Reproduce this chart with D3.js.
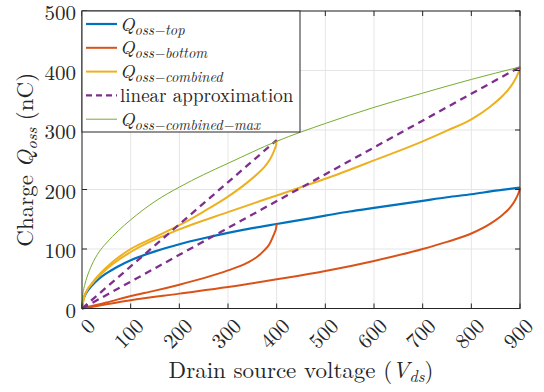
<!DOCTYPE html>
<html><head><meta charset="utf-8">
<script src="https://cdn.jsdelivr.net/npm/d3@7"></script>
<style>
html,body{margin:0;padding:0;background:#fff;}
</style></head>
<body><svg id="c" width="544" height="392"></svg>
<script>
const xTicks = [0,100,200,300,400,500,600,700,800,900];
const yTicks = [0,100,200,300,400,500];

const vTop = [0,2,5,10,20,35,50,75,100,150,200,250,300,350,400,450,500,550,600,650,700,750,800,850,900];
const qTop = [0,13,20,28,38,50,59,71,81,96,108,118,127,135,142,149,156,163,169,175,181,187,192,198,203];

const vBot400 = [0,50,100,150,200,250,300,340,360,375,385,392,396,399,400];
const qBot400 = [0,10,21,30,40,51,64,77,87,98,108,120,128,136,142];

const vBot900 = [0,50,100,200,300,400,500,600,700,750,800,840,865,880,890,896,899,900];
const qBot900 = [0,7,14,25,36,49,63,80,100,112,126,143,158,170,182,192,199,203];

const vComb400 = [0,5,10,20,50,100,150,200,250,300,340,360,375,385,392,396,399,400];
const qComb400 = [0,21,30,42,69,100,120,140,163,188,212,226,238,249,260,268,276,283];

const vComb900 = [0,5,10,20,50,100,200,300,400,500,600,700,750,800,840,865,880,890,896,899,900];
const qComb900 = [0,21,30,41,66,95,133,162,190,218,249,281,299,318,340,358,372,385,395,402,406];

const vLin400 = [0,400], qLin400 = [0,283];
const vLin900 = [0,900], qLin900 = [0,406];

const vMax = [0,1,3,6,10,20,35,50,75,100,150,200,250,300,400,500,600,700,800,900];
const qMax = [0,18,30,41,52,73,95,110,131,149,180,204,225,244,281,311,338,362,385,406];

const C = {top:"#0072BD", bot:"#D95319", comb:"#EDB120", lin:"#7E2F8E", max:"#77AC30"};
const FONT = "Latin Modern Roman";
const TXT = "#262626";

const L=82, R=520, T=11, B=308.5;
const svg = d3.select("#c");
const x = d3.scaleLinear().domain([0,900]).range([L,R]);
const y = d3.scaleLinear().domain([0,500]).range([B,T]);

function txt(sel){ return sel.append("text").attr("font-family",FONT).attr("fill",TXT); }

// grid
const g = svg.append("g");
g.selectAll(".gx").data(xTicks).join("line").attr("x1",d=>x(d)).attr("x2",d=>x(d)).attr("y1",T).attr("y2",B).attr("stroke","#e5e5e5").attr("stroke-width",1);
g.selectAll(".gy").data(yTicks).join("line").attr("y1",d=>y(d)).attr("y2",d=>y(d)).attr("x1",L).attr("x2",R).attr("stroke","#e5e5e5").attr("stroke-width",1);

const line = d3.line().x(d=>x(d[0])).y(d=>y(d[1])).curve(d3.curveMonotoneX);
const zip=(a,b)=>a.map((v,i)=>[v,b[i]]);
svg.append("clipPath").attr("id","pc").append("rect").attr("x",L-2).attr("y",T-2).attr("width",R-L+4).attr("height",B-T+4);
const pl = svg.append("g").attr("clip-path","url(#pc)");
function draw(v,q,col,w,dash){
  const p = pl.append("path").attr("d",line(zip(v,q))).attr("fill","none").attr("stroke",col).attr("stroke-width",w).attr("stroke-linejoin","round");
  if(dash) p.attr("stroke-dasharray",dash);
}
draw(vTop,qTop,C.top,2.2);
draw(vBot400,qBot400,C.bot,2);
draw(vBot900,qBot900,C.bot,2);
draw(vComb400,qComb400,C.comb,2);
draw(vComb900,qComb900,C.comb,2);
draw(vLin400,qLin400,C.lin,2.3,"7,5");
draw(vLin900,qLin900,C.lin,2.3,"7,5");
draw(vMax,qMax,C.max,1);

// axes box & ticks
const ax = svg.append("g");
ax.append("rect").attr("x",L).attr("y",T).attr("width",R-L).attr("height",B-T).attr("fill","none").attr("stroke","#262626").attr("stroke-width",1);
const tl=5;
xTicks.forEach(d=>{
  ax.append("line").attr("x1",x(d)).attr("x2",x(d)).attr("y1",B).attr("y2",B-tl).attr("stroke","#262626");
  ax.append("line").attr("x1",x(d)).attr("x2",x(d)).attr("y1",T).attr("y2",T+tl).attr("stroke","#262626");
  txt(ax).attr("transform",`translate(${x(d)+8},${B+12.5}) rotate(-45)`).attr("text-anchor","end").attr("dominant-baseline","central").attr("font-size",21).text(d);
});
yTicks.forEach(d=>{
  ax.append("line").attr("y1",y(d)).attr("y2",y(d)).attr("x1",L).attr("x2",L+tl).attr("stroke","#262626");
  ax.append("line").attr("y1",y(d)).attr("y2",y(d)).attr("x1",R).attr("x2",R-tl).attr("stroke","#262626");
  txt(ax).attr("x",L-6).attr("y",y(d)).attr("text-anchor","end").attr("dominant-baseline","central").attr("font-size",21).text(d);
});

// axis titles
const xt = txt(svg).attr("x",(L+R)/2).attr("y",378).attr("text-anchor","middle").attr("font-size",23);
xt.append("tspan").text("Drain source voltage (");
xt.append("tspan").attr("font-style","italic").text("V");
xt.append("tspan").attr("font-style","italic").attr("font-size",16.5).attr("dy",4).text("ds");
xt.append("tspan").attr("dy",-4).text(")");

const yt = txt(svg).attr("transform",`translate(33,${(T+B)/2}) rotate(-90)`).attr("text-anchor","middle").attr("font-size",23);
yt.append("tspan").text("Charge ");
yt.append("tspan").attr("font-style","italic").text("Q");
yt.append("tspan").attr("font-style","italic").attr("font-size",16.5).attr("dy",4).text("oss");
yt.append("tspan").attr("dy",-4).text(" (nC)");

// legend
const legItems = [
  {sub:"oss\u2212top", col:C.top, w:2.2},
  {sub:"oss\u2212bottom", col:C.bot, w:2},
  {sub:"oss\u2212combined", col:C.comb, w:2},
  {plain:"linear approximation", col:C.lin, w:2.3, dash:"6,4"},
  {sub:"oss\u2212combined\u2212max", col:C.max, w:1}
];
const lg = svg.append("g");
lg.append("rect").attr("x",L).attr("y",T).attr("width",218).attr("height",121).attr("fill","#fff").attr("stroke","#262626").attr("stroke-width",1);
legItems.forEach((it,i)=>{
  const cy = 24 + i*23.8;
  const ln = lg.append("line").attr("x1",86).attr("x2",117).attr("y1",cy).attr("y2",cy).attr("stroke",it.col).attr("stroke-width",it.w);
  if(it.dash) ln.attr("stroke-dasharray",it.dash);
  const t = txt(lg).attr("x",120).attr("y",cy+6.5).attr("font-size",19);
  if(it.plain){ t.text(it.plain); }
  else {
    t.append("tspan").attr("font-style","italic").text("Q");
    t.append("tspan").attr("font-style","italic").attr("font-size",14.5).attr("dy",4).text(it.sub);
  }
});
</script></body></html>
